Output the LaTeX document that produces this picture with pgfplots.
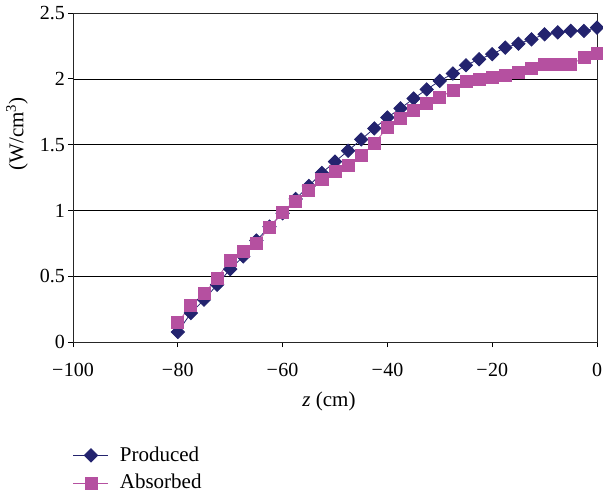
\documentclass[border=0pt]{standalone}
\usepackage{fontspec}
\setmainfont{Liberation Serif}
\usepackage{pgfplots}
\pgfplotsset{compat=1.18}
\definecolor{prod}{RGB}{35,35,110}
\definecolor{abso}{RGB}{181,80,160}
\begin{document}
\fontsize{21}{25}\selectfont
\begin{tikzpicture}
\path[use as bounding box] (-73pt,-154pt) rectangle (530pt,342pt);
\begin{axis}[
  at={(0pt,0pt)}, anchor=south west,
  scale only axis, width=524pt, height=329pt,
  xmin=-100, xmax=0, ymin=0, ymax=2.5,
  xtick={-100,-80,-60,-40,-20,0},
  xticklabels={−\kern0.5pt100,−\kern0.5pt80,−\kern0.5pt60,−\kern0.5pt40,−\kern0.5pt20,0},
  ytick={0,0.5,1,1.5,2,2.5},
  yticklabels={0,0.5,1,1.5,2,2.5},
  ymajorgrids, major grid style={black, line width=0.6pt},
  axis line style={black!85, line width=0.8pt},
  tick style={black, line width=0.8pt},
  tick align=outside, tick pos=left, major tick length=5pt,
  ticklabel style={font=\fontsize{20}{24}\selectfont},
  xticklabel style={yshift=-9pt},
  yticklabel style={xshift=4pt},
  xlabel={\textit{z} (cm)}, ylabel={(W/cm\textsuperscript{3})},
  label style={font=\fontsize{21}{25}\selectfont},
  xlabel style={yshift=-1pt, xshift=-6pt},
  ylabel style={at={(axis description cs:-0.107,0.632)}, anchor=center},
  legend style={at={(-0.006,-0.305)}, anchor=north west, draw=none, fill=none,
    font=\fontsize{21}{25}\selectfont, row sep=6pt, column sep=9pt},
  legend cell align=left,
  legend image code/.code={\draw[mark repeat=2,mark phase=2] plot coordinates {(0pt,0pt)(17.5pt,0pt)(35pt,0pt)};},
]
\addplot[prod, line width=0.8pt, mark=square*, mark size=4.7pt, mark options={rotate=45, fill=prod, draw=prod}] coordinates {
(-80,0.076)(-77.5,0.22)(-75,0.321)(-72.5,0.435)(-70,0.554)(-67.5,0.650)(-65,0.771)(-62.5,0.877)(-60,0.978)(-57.5,1.087)(-55,1.186)(-52.5,1.285)(-50,1.37)(-47.5,1.453)(-45,1.539)(-42.5,1.623)(-40,1.706)(-37.5,1.775)(-35,1.850)(-32.5,1.919)(-30,1.984)(-27.5,2.040)(-25,2.103)(-22.5,2.149)(-20,2.187)(-17.5,2.237)(-15,2.267)(-12.5,2.300)(-10,2.338)(-7.5,2.353)(-5,2.364)(-2.5,2.364)(0,2.389)};
\addlegendentry{Produced}
\addplot[abso, line width=0.8pt, mark=square*, mark size=6pt, mark options={fill=abso, draw=abso}] coordinates {
(-80,0.149)(-77.5,0.276)(-75,0.367)(-72.5,0.485)(-70,0.619)(-67.5,0.688)(-65,0.751)(-62.5,0.870)(-60,0.986)(-57.5,1.067)(-55,1.150)(-52.5,1.235)(-50,1.298)(-47.5,1.345)(-45,1.416)(-42.5,1.509)(-40,1.630)(-37.5,1.699)(-35,1.762)(-32.5,1.812)(-30,1.858)(-27.5,1.913)(-25,1.977)(-22.5,1.994)(-20,2.010)(-17.5,2.027)(-15,2.045)(-12.5,2.078)(-10,2.111)(-7.5,2.111)(-5,2.111)(-2.5,2.161)(0,2.192)};
\addlegendentry{Absorbed}
\end{axis}
\end{tikzpicture}
\end{document}
